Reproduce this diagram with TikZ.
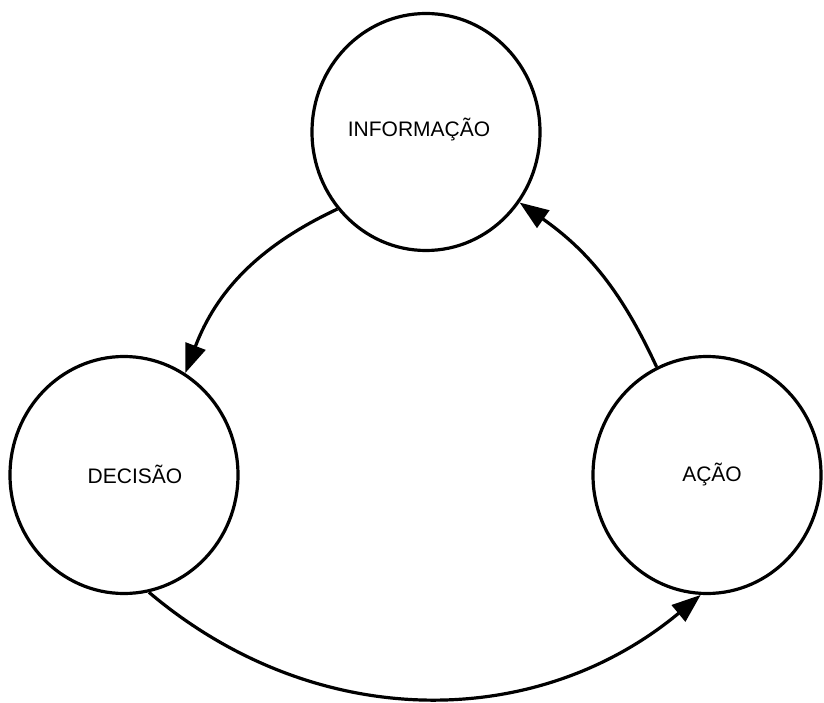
\documentclass[tikz,border=0pt]{standalone}
\usepackage{fontspec}
\setmainfont{Liberation Sans}
\usetikzlibrary{arrows.meta,shapes.geometric}
\begin{document}
\begin{tikzpicture}[x=1pt,y=1pt,
  stage/.style={ellipse,draw,line width=3.2pt,minimum width=228pt,minimum height=237pt,inner sep=0pt},
  caption/.style={font=\fontsize{21pt}{24pt}\selectfont,inner sep=0pt},
  flow/.style={line width=3.2pt,-{Triangle[length=29pt,width=21pt]}}]
  \useasboundingbox (0,0) rectangle (824,702);
  \clip (0,0) rectangle (824,702);

  % the three stages of the cycle
  \node[stage] (info) at (426,570) {};
  \node[stage] (dec)  at (124,227) {};
  \node[stage] (acao) at (707,227) {};

  \node[caption] (infotxt) at (419,572) {INFORMAÇÃO};
  \node[caption] (dectxt)  at (135,228) {DECISÃO};
  \node[caption] (acaotxt) at (712,227) {AÇÃO};

  % arcs joining the stages
  \draw[flow] (info.221) to[bend right=22] (dec.59);
  \draw[flow] (dec.282)  to[bend right=40] (acao.267);
  \draw[flow] (acao.115) to[bend right=15] (info.323);
\end{tikzpicture}
\end{document}
